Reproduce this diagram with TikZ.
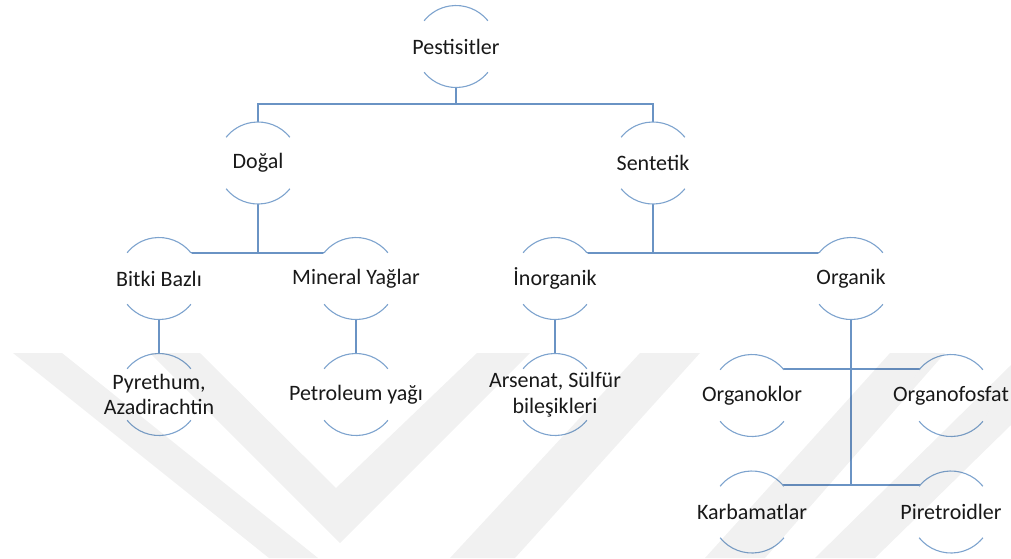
\documentclass[tikz,border=0pt]{standalone}
\usepackage{fontspec}
\setmainfont{Carlito}
\usetikzlibrary{backgrounds}
\definecolor{connc}{RGB}{106,147,196}
\definecolor{arcc}{RGB}{125,163,206}
\definecolor{txtc}{RGB}{25,25,25}
\begin{document}
\begin{tikzpicture}[x=1pt,y=-1pt,
  lbl/.style={font=\fontsize{22}{25.5}\selectfont, text=txtc, align=center, inner sep=0pt},
  connline/.style={draw=connc, line width=1.6pt},
  ring/.style={draw=arcc, line width=1.1pt},
  wm/.style={fill=black, fill opacity=0.055}
]
\useasboundingbox (0,0) rectangle (1011,558);
% nodes
\node[lbl] (pest)  at (456,46.5) {Pestisitler};
\node[lbl] (dogal) at (258,163) {Doğal};
\node[lbl] (sent)  at (653,163) {Sentetik};
\node[lbl] (bitki) at (159,278.5) {Bitki Bazlı};
\node[lbl] (miner) at (356,278.5) {Mineral Yağlar};
\node[lbl] (inorg) at (555,278.5) {İnorganik};
\node[lbl] (org)   at (851,278.5) {Organik};
\node[lbl] (pyr)   at (159,394.5) {Pyrethum,\\Azadirachtin};
\node[lbl] (petro) at (356,394.5) {Petroleum yağı};
\node[lbl] (arsen) at (555,394.5) {Arsenat, Sülfür\\bileşikleri};
\node[lbl] (oklor) at (752,395.5) {Organoklor};
\node[lbl] (ofos)  at (951,395.5) {Organofosfat};
\node[lbl] (karb)  at (752,512) {Karbamatlar};
\node[lbl] (piret) at (951,512) {Piretroidler};
% junctions
\coordinate (j1) at (456,104);
\coordinate (j2) at (258,253);
\coordinate (j3) at (653,253);
\coordinate (j4) at (851,369);
\coordinate (j5) at (851,485);
\begin{pgfonlayer}{background}
  \draw[connline] (pest.center) -- (j1);
  \draw[connline] (dogal.center) |- (j1) -| (sent.center);
  \draw[connline] (dogal.center) -- (j2);
  \draw[connline] (bitki.center) |- (j2) -| (miner.center);
  \draw[connline] (sent.center) -- (j3);
  \draw[connline] (inorg.center) |- (j3) -| (org.center);
  \draw[connline] (bitki.center) -- (pyr.center);
  \draw[connline] (miner.center) -- (petro.center);
  \draw[connline] (inorg.center) -- (arsen.center);
  \draw[connline] (org.center) -- (j5);
  \draw[connline] (oklor.center) |- (j4) -| (ofos.center);
  \draw[connline] (karb.center) |- (j5) -| (piret.center);
  \foreach \n in {pest,dogal,sent,bitki,miner,inorg,org,pyr,petro,arsen,oklor,ofos,karb,piret}{
    \fill[white] (\n.center) circle[radius=41pt];
    \draw[ring] (\n.center) ++(39:41pt) arc[start angle=39,end angle=141,radius=41pt];
    \draw[ring] (\n.center) ++(219:41pt) arc[start angle=219,end angle=321,radius=41pt];
  }
\end{pgfonlayer}
% watermark
\fill[wm] (13,353) -- (62,353) -- (318,558) -- (269,558) -- cycle;
\fill[wm] (150,353) -- (200,353) -- (336,488) -- (477,353) -- (530,353) -- (340,543) -- cycle;
\fill[wm] (640,353) -- (700,353) -- (515,558) -- (450,558) -- cycle;
\fill[wm] (890,353) -- (945,353) -- (765,558) -- (705,558) -- cycle;
\fill[wm] (1011,365) -- (1011,425) -- (875,558) -- (815,558) -- cycle;
\end{tikzpicture}
\end{document}
